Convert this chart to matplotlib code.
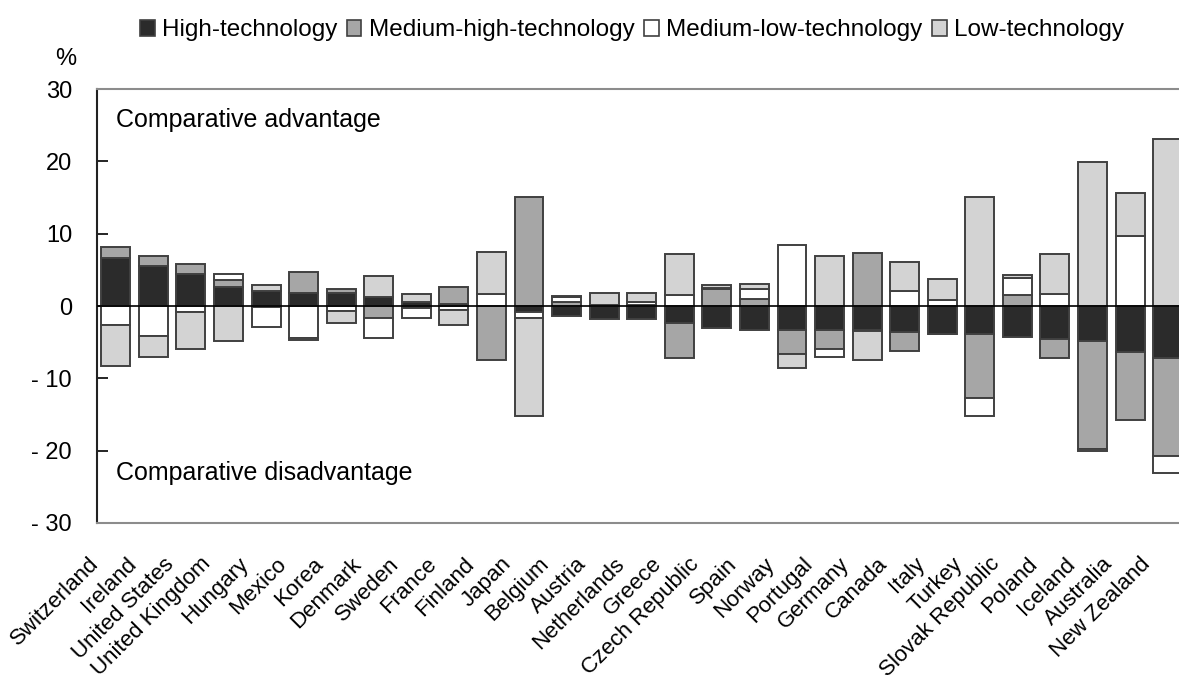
import numpy as np
import matplotlib
matplotlib.use("Agg")
import matplotlib.pyplot as plt
from matplotlib.patches import Patch
import matplotlib.transforms as mtransforms

plt.rcParams['font.family'] = ['Liberation Sans', 'DejaVu Sans']

countries = ['Switzerland', 'Ireland', 'United States', 'United Kingdom', 'Hungary',
             'Mexico', 'Korea', 'Denmark', 'Sweden', 'France', 'Finland', 'Japan',
             'Belgium', 'Austria', 'Netherlands', 'Greece', 'Czech Republic', 'Spain',
             'Norway', 'Portugal', 'Germany', 'Canada', 'Italy', 'Turkey',
             'Slovak Republic', 'Poland', 'Iceland', 'Australia', 'New Zealand']

high_tech = [6.6, 5.5, 4.4, 2.6, 2.1, 1.85, 1.85, 1.3, 0.6, 0.25, 0.0, -0.8,
             -1.4, -1.85, -1.85, -2.4, -3.1, -3.3, -3.3, -3.3, -3.3, -3.55, -3.8,
             -3.8, -4.25, -4.55, -4.8, -6.4, -7.25]
med_high_tech = [1.6, 1.4, 1.4, 1.0, -0.2, 2.9, 0.5, -1.7, -0.25, 2.4, -7.45, 15.1,
                 0.5, 0.0, 0.2, -4.85, 2.35, 0.95, -3.35, -2.65, 7.4, -2.65, -0.1,
                 -8.95, 1.5, -2.7, -15.0, -9.3, -13.5]
med_low_tech = [-2.6, -4.2, -0.8, 0.8, -2.7, -4.4, -0.7, -2.65, -1.35, -0.55, 1.6, -0.8,
                0.75, 0.1, 0.3, 1.5, 0.15, 1.45, 8.45, -1.05, -0.1, 2.1, 0.8,
                -2.4, 2.4, 1.6, -0.2, 9.75, -2.4]
low_tech = [-5.7, -2.8, -5.1, -4.8, 0.8, -0.3, -1.7, 2.9, 1.0, -2.05, 5.9, -13.6,
            0.15, 1.75, 1.3, 5.7, 0.45, 0.7, -1.95, 6.9, -4.05, 3.95, 2.9,
            15.1, 0.35, 5.55, 19.9, 5.95, 23.1]

series = [
    ('High-technology', high_tech, '#2b2b2b'),
    ('Medium-high-technology', med_high_tech, '#a6a6a6'),
    ('Medium-low-technology', med_low_tech, '#ffffff'),
    ('Low-technology', low_tech, '#d3d3d3'),
]
edge = '#404040'

fig = plt.figure(figsize=(11.79, 6.75), dpi=100)
ax = fig.add_axes([0.0823, 0.2252, 0.924, 0.6428])

x = np.arange(len(countries))
pos_base = np.zeros(len(countries))
neg_base = np.zeros(len(countries))
for name, vals, col in series:
    v = np.array(vals)
    bottom = np.where(v >= 0, pos_base, neg_base)
    ax.bar(x, v, width=0.77, bottom=bottom, color=col, edgecolor=edge,
           linewidth=1.4, zorder=2)
    pos_base += np.where(v >= 0, v, 0)
    neg_base += np.where(v < 0, v, 0)

ax.axhline(0, color='black', linewidth=1.2, zorder=3)

ax.set_xlim(-0.5, len(countries) - 0.5)
ax.set_ylim(-30, 30)
ax.set_yticks([-30, -20, -10, 0, 10, 20, 30])
ax.set_yticklabels(['- 30', '- 20', '- 10', '0', '10', '20', '30'], fontsize=17)
ax.tick_params(axis='y', direction='in', length=8, width=1.2, pad=18)
ax.set_xticks(x)
ax.set_xticklabels(countries, rotation=45, ha='right', va='top',
                   rotation_mode='anchor', fontsize=16)
ax.tick_params(axis='x', length=0, pad=22)
shift = mtransforms.ScaledTranslation(-28 / 100, 0, fig.dpi_scale_trans)
for lab in ax.get_xticklabels():
    lab.set_transform(lab.get_transform() + shift)

for side in ['top', 'bottom', 'right']:
    ax.spines[side].set_color('#8c8c8c')
    ax.spines[side].set_linewidth(1.5)
ax.spines['left'].set_color('#222222')
ax.spines['left'].set_linewidth(1.5)

ax.text(0.0, 25.7, 'Comparative advantage', fontsize=18, va='center', ha='left')
ax.text(0.0, -23.1, 'Comparative disadvantage', fontsize=18, va='center', ha='left')
fig.text(0.047, 0.913, '%', fontsize=17, va='center', ha='left')

handles = [Patch(facecolor=col, edgecolor=edge, linewidth=1.2) for _, _, col in series]
labels = [name for name, _, _ in series]
fig.legend(handles, labels, loc='center', bbox_to_anchor=(0.536, 0.955), ncol=4,
           frameon=False, fontsize=17.5, handlelength=0.6, handleheight=0.6,
           handletextpad=0.3, columnspacing=0.4, borderpad=0)

fig.savefig('out.png', dpi=100)
